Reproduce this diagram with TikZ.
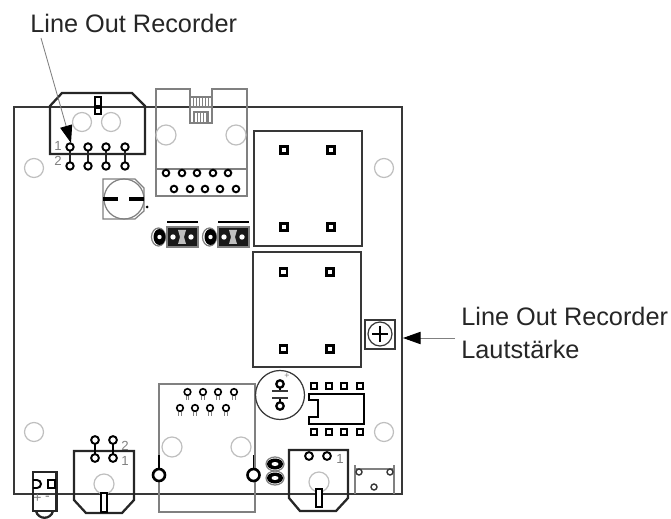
\documentclass[tikz,border=0pt]{standalone}
\usepackage{fontspec}
\setmainfont{Liberation Sans}
\usetikzlibrary{arrows.meta}
\tikzset{>={Triangle[length=10pt,width=7pt,black]}}
\definecolor{boardgray}{gray}{0.22}
\definecolor{partgray}{gray}{0.5}
\definecolor{holegray}{gray}{0.75}
\tikzset{
    board/.style={draw=boardgray, line width=1pt},
    part/.style={draw=black!85, line width=1.3pt},
    outline/.style={draw=partgray, line width=0.7pt},
    hole/.style={draw=holegray, line width=0.7pt},
    pin/.style={draw=black, line width=1.1pt, fill=white},
    pad/.style={draw=black, line width=1.5pt, fill=white},
    tiny/.style={text=partgray, font=\fontsize{7.5}{9}\selectfont, inner sep=0pt},
    label/.style={font=\fontsize{14.4}{17}\selectfont, inner sep=0pt, anchor=base west, text=black!85}
}

\begin{document}
\begin{tikzpicture}[x=0.02cm, y=-0.02cm]
    \useasboundingbox (0,0) rectangle (671,519);
    % board
    \draw[board] (14,107) rectangle (402,494);
    \foreach \x/\y in {34/168, 384/168, 34/432, 384/432}
        \draw[hole] (\x,\y) circle (9.5);

    % top jack
    \foreach \x in {82,111} \draw[hole] (\x,122) circle (9.5);
    \draw[part] (50,106) -- (62,93) -- (132,93) -- (145,106) -- (145,154) -- (50,154) -- cycle;
    \draw[line width=1.3pt, fill=white] (95,97) rectangle (101,114);
    \draw[line width=1.8pt] (95,107) -- (101,107);
    \foreach \x in {70,88,106,125} {
        \draw[part] (\x,147) -- (\x,166);
        \draw[pin] (\x,147) circle (3.7);
        \draw[pin] (\x,166) circle (3.7);
    }
    \node[tiny] (one) at (58,146) {1};
    \node[tiny] (two) at (58,161) {2};

    % top socket
    \draw[outline] (156,89) -- (190,89) -- (190,123) -- (212,123) -- (212,89) -- (247,89) -- (247,196) -- (156,196) -- cycle;
    \draw[outline] (156,169) -- (247,169);
    \draw[outline] (190,97) -- (212,97);
    \draw[outline] (190,107) -- (212,107);
    \foreach \x in {193,196,199,202,205,208} \draw[outline, line width=0.4pt] (\x,97) -- (\x,107);
    \draw[outline] (194,123) -- (194,112) -- (208,112) -- (208,123);
    \foreach \x in {197,200,203,206} \draw[outline, line width=0.4pt] (\x,112) -- (\x,123);
    \draw[hole] (166,135) circle (10);
    \draw[hole] (236,135) circle (10);
    \foreach \x in {166,182,197,213,228} \draw[pin] (\x,173) circle (3.3);
    \foreach \x in {174,190,205,220,236} \draw[pin] (\x,189) circle (3.3);

    % round part
    \draw[outline] (103,179) -- (135,179) -- (144,188) -- (144,211) -- (135,219) -- (103,219) -- cycle;
    \draw[outline] (124,199) circle (20);
    \draw[line width=2pt] (103,199) -- (118,199);
    \draw[line width=2pt] (129,199) -- (144,199);
    \fill (147,207) circle (1.5);

    % small parts in the middle
    \foreach \x in {0,51} {
        \draw[line width=1.1pt] (\x+167,222) -- (\x+198,222);
        \draw[outline] (\x+158.5,237) ellipse (7 and 9);
        \fill (\x+159.5,237) ellipse (6 and 8);
        \fill[white] (\x+159.5,237) circle (2.2);
        \fill[black!90] (\x+167,227) rectangle (\x+198,247);
        \draw[outline] (\x+167,227) rectangle (\x+198,247);
        \fill[black!25] (\x+178,230) -- (\x+186,230) -- (\x+184,237) -- (\x+186,244) -- (\x+178,244) -- (\x+180,237) -- cycle;
        \foreach \z in {173,191} \fill[white] (\x+\z,237) circle (2.7);
    }

    % big blocks
    \draw[board] (254,131) rectangle (362,246);
    \draw[board] (253,252) rectangle (361,367);
    \foreach \x/\y in {284/150, 331/150, 284/227, 331/227, 283.5/272, 330/272, 283.5/349, 330/349}
        \draw[pad] (\x-3.5,\y-3.5) rectangle (\x+3.5,\y+3.5);

    % trimmer
    \draw[board] (365,320) rectangle (395,349);
    \draw[draw=boardgray, line width=0.7pt] (380,334) circle (12);
    \draw[line width=1.5pt] (372,334) -- (388,334);
    \draw[line width=1.5pt] (380,326) -- (380,342);

    % bottom socket
    \draw[outline] (159,384) rectangle (255,512);
    \draw[hole] (172,447) circle (10);
    \draw[hole] (241,447) circle (10);
    \foreach \x in {187.5,203,218,234} {
        \draw[outline] (\x-1.2,392) -- (\x-1.2,400);
        \draw[outline] (\x+1.2,392) -- (\x+1.2,400);
        \draw[pin, line width=0.9pt] (\x,392) circle (3.3);
    }
    \foreach \x in {180,195,210,226} {
        \draw[outline] (\x-1.2,408) -- (\x-1.2,416);
        \draw[outline] (\x+1.2,408) -- (\x+1.2,416);
        \draw[pin, line width=0.9pt] (\x,408) circle (3.3);
    }
    \foreach \x in {159,253.5} {
        \draw[line width=0.7pt] (\x,455) -- (\x,470);
        \draw[pin, line width=1.5pt] (\x,475) circle (6);
    }

    % capacitor
    \draw[draw=boardgray, line width=0.7pt] (280,395) circle (24.5);
    \draw[line width=1.1pt] (280,384) -- (280,391);
    \draw[line width=1.1pt] (280,398) -- (280,406);
    \draw[pin, line width=1.3pt] (280,384) circle (3.7);
    \draw[pin, line width=1.3pt] (280,406) circle (3.7);
    \draw[draw=boardgray, line width=1.1pt] (272,391) -- (288,391);
    \draw[draw=boardgray, line width=1.1pt] (272,398) -- (288,398);
    \node[tiny, font=\fontsize{5}{6}\selectfont] (capplus) at (287,376) {+};

    % ic
    \draw[line width=1.1pt] (309,394) -- (364,394) -- (364,424) -- (309,424) -- (309,417) -- (318,417) -- (318,400) -- (309,400) -- cycle;
    \foreach \x in {314,329,344,360} {
        \draw[pad] (\x-3,383) rectangle (\x+3,389);
        \draw[pad] (\x-3,429) rectangle (\x+3,435);
    }

    % bottom jack
    \draw[hole] (104,484) circle (10);
    \draw[part] (74,451) -- (134,451) -- (134,500) -- (122,513) -- (86,513) -- (74,500) -- cycle;
    \draw[fill=white, line width=1.3pt] (101,493) rectangle (107,512);
    \foreach \x in {95,113} {
        \draw[line width=1.2pt] (\x,440) -- (\x,458);
        \draw[pin] (\x,440) circle (3.9);
        \draw[pin] (\x,458) circle (3.9);
    }
    \node[tiny] (two2) at (125,446) {2};
    \node[tiny] (one2) at (125,461) {1};

    % right jack
    \draw[hole] (319,482) circle (10);
    \draw[part] (289,450) -- (348,450) -- (348,498) -- (336,511) -- (300,511) -- (289,498) -- cycle;
    \draw[fill=white, line width=1.3pt] (316,489) rectangle (322,507);
    \foreach \x in {309,327} \draw[pin] (\x,456) circle (3.9);
    \node[tiny] (one3) at (340,458.5) {1};

    % pair of pads
    \foreach \y in {464,478} {
        \draw[outline] (275,\y) ellipse (9 and 7);
        \fill (275,\y) ellipse (8 and 5.5);
        \fill[white] (275,\y) ellipse (3.5 and 2);
    }

    % small header
    \draw[outline] (355,465) -- (355,494);
    \draw[outline] (394,465) -- (394,494);
    \draw[outline] (355,469) -- (394,469);
    \foreach \x/\y in {359/472, 390/472, 374/487}
        \draw[pin, draw=boardgray, line width=0.8pt] (\x,\y) circle (3);

    % led
    \draw[part] (33,472) rectangle (56.5,511);
    \draw[part] (36,511) .. controls (38,520) and (51,520) .. (53,511);
    \draw[line width=1.1pt] (33,480) -- (37,480) arc (-90:90:4) -- (33,488);
    \draw[line width=1.1pt] (48,480) rectangle (55,488);
    \node[tiny, font=\fontsize{8}{9}\selectfont] (ledplus) at (37.5,498) {+};
    \node[tiny, font=\fontsize{8}{9}\selectfont] (ledminus) at (47.5,498) {-};

    % labels
    \node[label] (recorder) at (30,32.5) {Line Out Recorder};
    \node[label] (volumea) at (461,326) {Line Out Recorder};
    \node[label] (volumeb) at (461,358.5) {Lautstärke};
    \coordinate (jacktip) at (71,143);
    \coordinate (jackstart) at (41,38);
    \coordinate (trimtip) at (403,338);
    \coordinate (trimstart) at (455,338);
    \draw[->, draw=partgray, line width=0.5pt] (jackstart) -- (jacktip);
    \draw[->, draw=partgray, line width=0.5pt] (trimstart) -- (trimtip);
\end{tikzpicture}
\end{document}
